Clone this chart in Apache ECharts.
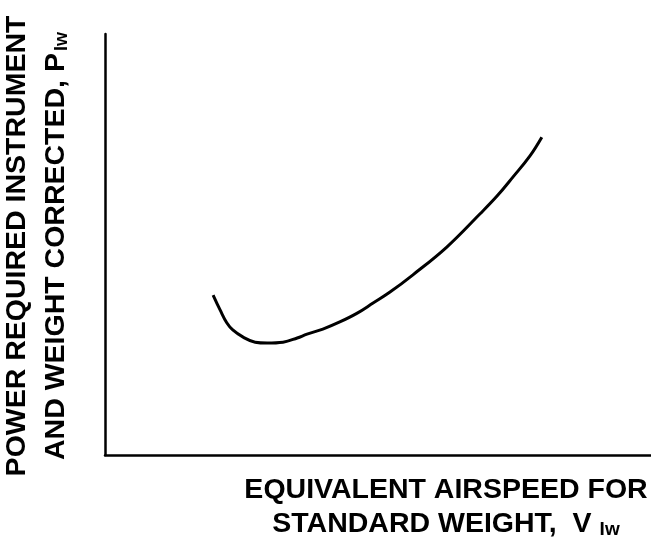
<!DOCTYPE html>
<html>
<head>
<meta charset="utf-8">
<style>
  html, body { margin: 0; padding: 0; background: #fff; }
  #chart { width: 651px; height: 544px; }
</style>
<script src="https://cdn.jsdelivr.net/npm/echarts@6/dist/echarts.min.js"></script>
</head>
<body>
<div id="chart"></div>
<script>
// Power-required curve (arbitrary units, no scale printed on the axes)
const airspeed = [19.8, 21.1, 22.3, 23.4, 25.3, 27.5, 29.7, 32.6, 35.2, 37.0, 39.9, 43.0, 46.2, 49.1, 52.2, 56.4, 62.6, 68.7, 71.8, 74.7, 77.8, 80.0];
const power    = [38.0, 34.4, 31.4, 29.7, 28.0, 26.8, 26.6, 26.8, 27.8, 28.7, 29.9, 31.6, 33.7, 36.1, 38.7, 42.8, 49.4, 57.3, 61.5, 66.0, 71.0, 75.5];

const xTitleLines = ['EQUIVALENT AIRSPEED FOR', 'STANDARD WEIGHT,  V'];
const xTitleSub = 'Iw';
const yTitleLines = ['POWER REQUIRED INSTRUMENT', 'AND WEIGHT CORRECTED, P'];
const yTitleSub = 'Iw';

const chart = echarts.init(document.getElementById('chart'));
const font = '"Liberation Sans", Arial, sans-serif';
const titleStyle = { fontFamily: font, fontWeight: 'bold', fontSize: 28.5, color: '#000' };

chart.setOption({
  animation: false,
  backgroundColor: '#fff',
  grid: { left: 105, right: 0, top: 34, bottom: 89, containLabel: false },
  xAxis: {
    type: 'value', min: 0, max: 100,
    axisLine: { show: true, onZero: false, lineStyle: { color: '#000', width: 2.5 } },
    axisTick: { show: false }, axisLabel: { show: false }, splitLine: { show: false }
  },
  yAxis: {
    type: 'value', min: 0, max: 100,
    axisLine: { show: true, onZero: false, lineStyle: { color: '#000', width: 2.5 } },
    axisTick: { show: false }, axisLabel: { show: false }, splitLine: { show: false }
  },
  series: [{
    type: 'line',
    data: airspeed.map((x, i) => [x, power[i]]),
    smooth: 0.4,
    showSymbol: false,
    lineStyle: { color: '#000', width: 3 }
  }],
  graphic: [
    {
      type: 'text', x: 446, y: 473,
      style: {
        x: 0, y: 0, align: 'center', verticalAlign: 'top',
        text: '{a|' + xTitleLines[0] + '}\n{a|' + xTitleLines[1] + '}{s|' + xTitleSub + '}',
        rich: {
          a: Object.assign({}, titleStyle, { lineHeight: 34 }),
          s: Object.assign({}, titleStyle, { fontSize: 19, lineHeight: 34, padding: [12, 0, 0, 8] })
        }
      }
    },
    {
      type: 'text', x: 37, y: 246, rotation: Math.PI / 2,
      style: {
        x: 0, y: 0, align: 'center', verticalAlign: 'middle',
        text: '{a|' + yTitleLines[0] + '}\n{a|' + yTitleLines[1] + '}{s|' + yTitleSub + '}',
        rich: {
          a: Object.assign({}, titleStyle, { lineHeight: 39 }),
          s: Object.assign({}, titleStyle, { fontSize: 18, lineHeight: 39, padding: [12, 0, 0, 2] })
        }
      }
    }
  ]
});
</script>
</body>
</html>
